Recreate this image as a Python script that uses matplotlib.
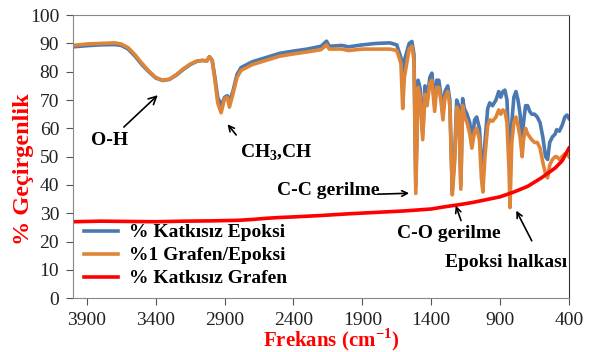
import matplotlib
matplotlib.use("Agg")
import matplotlib.pyplot as plt

plt.rcParams['font.family'] = ['Liberation Serif', 'DejaVu Serif']
plt.rcParams['mathtext.fontset'] = 'custom'
plt.rcParams['mathtext.rm'] = 'Liberation Serif'
plt.rcParams['mathtext.bf'] = 'Liberation Serif:bold'

# wavenumber (cm-1) and transmittance (%)
wn = [4000, 3900, 3800, 3700, 3650, 3600, 3550, 3500, 3450, 3400, 3350, 3300,
      3250, 3200, 3150, 3100, 3060, 3030, 3010, 2990, 2970, 2950, 2925, 2900,
      2880, 2865, 2840, 2810, 2780, 2700, 2600, 2500, 2400, 2300, 2200, 2160,
      2140, 2050, 2000, 1900, 1800, 1700, 1650, 1620, 1607, 1595, 1560, 1540,
      1525, 1512, 1495, 1480, 1462, 1445, 1430, 1410, 1395, 1375, 1360, 1345,
      1330, 1315, 1300, 1280, 1265, 1247, 1230, 1215, 1200, 1185, 1172, 1160,
      1140, 1120, 1105, 1085, 1070, 1050, 1035, 1025, 1010, 990, 975, 955,
      930, 910, 895, 880, 865, 850, 835, 828, 815, 800, 785, 770, 755, 740,
      730, 715, 700, 685, 670, 650, 630, 610, 590, 570, 555, 540, 520, 500,
      490, 470, 450, 430, 415, 400]

epoksi = [88.8, 89.2, 89.5, 89.6, 89.3, 88.0, 85.5, 82.5, 80.0, 77.8, 76.9, 77.3,
          78.8, 80.8, 82.5, 83.7, 84.0, 83.8, 85.3, 84.0, 78.0, 71.0, 68.0, 71.0,
          71.5, 69.5, 73.0, 79.0, 81.5, 83.5, 85.0, 86.5, 87.3, 88.0, 89.0, 90.8,
          89.0, 89.3, 88.8, 89.5, 90.0, 90.2, 89.5, 85.0, 80.0, 84.0, 90.0, 90.7,
          86.0, 40.0, 77.0, 74.0, 58.0, 75.0, 70.0, 78.0, 79.5, 68.0, 77.0, 77.0,
          72.0, 65.0, 73.0, 75.0, 70.0, 38.0, 50.0, 70.0, 68.0, 40.0, 70.5, 67.0,
          65.0, 62.0, 55.0, 63.0, 64.0, 60.0, 48.0, 43.0, 55.0, 67.0, 69.0, 68.0,
          70.0, 73.0, 71.0, 73.0, 73.5, 70.0, 52.0, 50.0, 62.0, 71.0, 73.0, 70.0,
          65.0, 56.0, 62.0, 68.0, 68.0, 66.0, 65.0, 65.0, 64.0, 62.0, 57.0, 50.0,
          49.0, 55.0, 57.0, 58.0, 59.5, 59.0, 61.0, 64.0, 64.7, 63.5]

grafen_epoksi = [89.3, 89.8, 90.0, 90.2, 89.8, 88.5, 86.0, 83.0, 80.3, 78.0, 77.0, 77.4,
                 79.0, 81.0, 82.7, 83.8, 84.0, 83.8, 85.3, 84.0, 77.0, 69.0, 65.5, 70.5,
                 71.0, 67.5, 72.0, 78.0, 80.5, 82.5, 84.0, 85.5, 86.3, 87.0, 87.8, 89.5,
                 88.0, 88.0, 87.5, 88.0, 88.0, 88.0, 87.5, 83.0, 67.0, 78.0, 88.0, 89.0,
                 84.0, 37.0, 74.5, 71.0, 56.0, 72.0, 68.0, 76.0, 77.0, 66.0, 74.5, 74.5,
                 70.0, 63.0, 71.0, 73.0, 68.0, 36.5, 48.0, 67.5, 66.0, 38.5, 68.0, 64.5,
                 62.0, 58.0, 53.0, 59.0, 60.0, 56.0, 42.0, 37.5, 50.0, 61.0, 63.0, 62.5,
                 64.0, 66.5, 65.0, 66.5, 66.0, 62.0, 45.0, 32.0, 55.0, 62.0, 64.0, 61.0,
                 57.0, 50.0, 56.0, 60.0, 58.0, 57.0, 56.0, 55.0, 55.0, 53.0, 48.0, 44.0,
                 42.5, 47.0, 49.0, 50.0, 50.0, 49.0, 50.0, 51.0, 51.0, 50.0]

wn_grafen = [4000, 3800, 3600, 3400, 3200, 3000, 2800, 2700, 2600, 2500, 2400, 2200,
             2000, 1800, 1600, 1400, 1300, 1200, 1100, 1000, 900, 800, 700, 600, 500,
             450, 400]
grafen = [27.0, 27.2, 27.1, 27.0, 27.2, 27.3, 27.5, 27.8, 28.2, 28.5, 28.7, 29.2,
          29.8, 30.3, 30.8, 31.5, 32.3, 33.0, 33.8, 34.8, 35.8, 37.5, 39.5, 42.5, 46.0,
          48.5, 53.0]

fig = plt.figure(figsize=(5.89, 3.52), dpi=100)
ax = fig.add_axes([0.124, 0.153, 0.842, 0.804])

ax.plot(wn, epoksi, color='#4A78B0', lw=2.6, label='% Katkısız Epoksi')
ax.plot(wn, grafen_epoksi, color='#DE8538', lw=2.6, label='%1 Grafen/Epoksi')
ax.plot(wn_grafen, grafen, color='#FF0000', lw=2.6, label='% Katkısız Grafen')

ax.set_xlim(4000, 400)
ax.set_ylim(0, 100)
ax.set_xticks(range(3900, 399, -500))
ax.set_yticks(range(0, 101, 10))
ax.tick_params(labelsize=14, colors='#555555', labelcolor='#222222', length=5, pad=5)
for s in ax.spines.values():
    s.set_color('#888888')
ax.spines['right'].set_color('#333333')

ax.set_xlabel('Frekans (cm$^{\\mathbf{-1}}$)', color='red', fontsize=15,
              fontweight='bold', va='center')
ax.set_ylabel('% Geçirgenlik', color='red', fontsize=17.5, fontweight='bold', va='center')
ax.xaxis.set_label_coords(0.52, -0.146)
ax.yaxis.set_label_coords(-0.099, 0.456)

bold = dict(fontsize=14, fontweight='bold', ha='center', va='center')
arrow = dict(arrowstyle='->', color='black', lw=1.2)
ax.annotate('O-H', xy=(3370, 72.4), xytext=(3733, 55.8), arrowprops=arrow, **bold)
ax.annotate('', xy=(2891, 62.2), xytext=(2803, 56.9), arrowprops=arrow)
ax.text(2527, 51.2, 'CH$_\\mathbf{3}$,CH', **bold)
ax.annotate('', xy=(1540, 37.1), xytext=(1809, 36.7), arrowprops=arrow)
ax.text(2150, 38.2, 'C-C gerilme', **bold)
ax.annotate('', xy=(1228, 33.6), xytext=(1177, 26.5), arrowprops=arrow)
ax.text(1271, 23.0, 'C-O gerilme', **bold)
ax.annotate('', xy=(792, 31.8), xytext=(661, 19.4), arrowprops=arrow)
ax.text(857, 12.7, 'Epoksi halkası', **bold)

ax.legend(loc='lower left', bbox_to_anchor=(0.0, 0.0), frameon=False,
          prop={'size': 14, 'weight': 'bold'}, handlelength=1.75,
          handletextpad=0.6, labelspacing=0.28, borderaxespad=0.15)

fig.savefig('out.png', dpi=100)
